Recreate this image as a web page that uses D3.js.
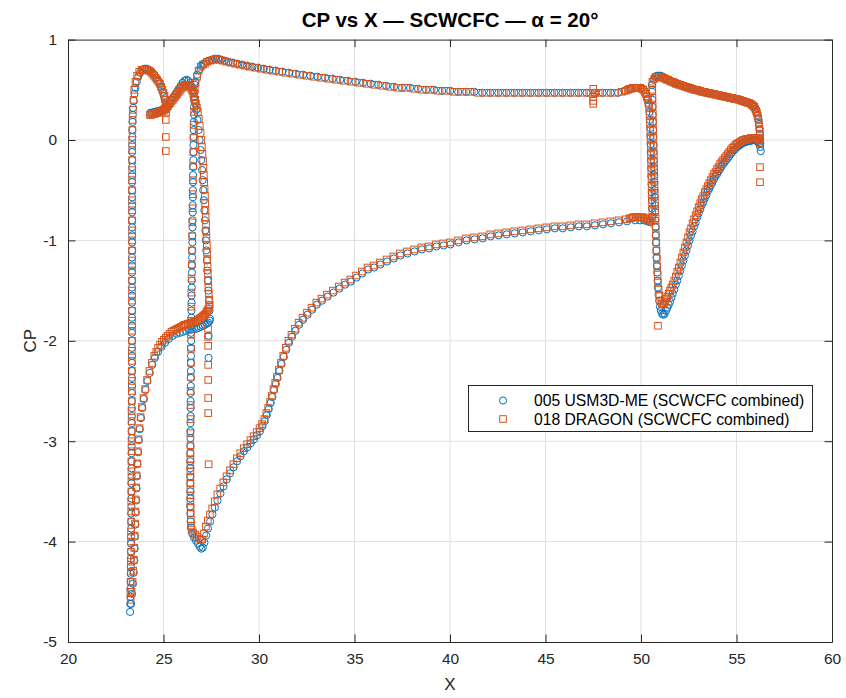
<!DOCTYPE html>
<html><head><meta charset="utf-8">
<script src="https://cdn.jsdelivr.net/npm/d3@7"></script>
<style>body{margin:0;background:#fff}text{font-family:"Liberation Sans",Arial,Helvetica,sans-serif}</style>
</head><body>
<svg id="chart" width="846" height="698"></svg>
<script>
const titleText = "CP vs X — SCWCFC — α = 20°";
const xLabel = "X", yLabel = "CP";
const xTicks = [20,25,30,35,40,45,50,55,60];
const yTicks = [-5,-4,-3,-2,-1,0,1];
const seriesNames = ["005 USM3D-ME (SCWCFC combined)", "018 DRAGON (SCWCFC combined)"];

// ---- 005 USM3D-ME : slat ----
const usmSlat = [
[23.25,-4.70],[23.30,-4.62],[23.35,-4.52],[23.40,-4.42],[23.44,-4.31],[23.47,-4.19],[23.49,-4.07],[23.51,-3.95],[23.53,-3.83],[23.55,-3.71],[23.57,-3.59],[23.59,-3.47],[23.61,-3.35],[23.64,-3.23],[23.67,-3.11],[23.71,-2.99],[23.76,-2.88],[23.82,-2.77],[23.89,-2.67],[23.97,-2.58],[24.06,-2.49],[24.16,-2.40],[24.28,-2.32],[24.41,-2.24],[24.55,-2.17],[24.71,-2.11],[24.89,-2.06],[25.08,-2.02],[25.28,-1.98],[25.48,-1.95],[25.68,-1.93],[25.86,-1.92],[26.02,-1.91],[26.17,-1.90],[26.32,-1.89],[26.46,-1.89],[26.59,-1.88],[26.72,-1.88],[26.84,-1.87],[26.96,-1.86],[27.07,-1.85],[27.17,-1.84],[27.26,-1.83],[27.34,-1.82],[27.42,-1.80],
[23.26,-4.62],[23.27,-4.55],[23.27,-4.47],[23.28,-4.40],[23.28,-4.32],[23.29,-4.25],[23.29,-4.17],[23.30,-4.10],[23.30,-4.02],[23.30,-3.95],[23.31,-3.87],[23.31,-3.80],[23.31,-3.72],[23.32,-3.65],[23.32,-3.57],[23.32,-3.50],[23.32,-3.42],[23.33,-3.35],[23.33,-3.27],[23.33,-3.20],[23.33,-3.12],[23.33,-3.05],[23.34,-2.97],[23.34,-2.90],[23.34,-2.82],[23.34,-2.75],[23.34,-2.67],[23.34,-2.60],[23.35,-2.52],[23.35,-2.45],[23.35,-2.37],[23.35,-2.30],[23.35,-2.22],[23.35,-2.15],[23.35,-2.07],[23.35,-2.00],[23.35,-1.92],[23.35,-1.85],[23.35,-1.77],[23.35,-1.70],[23.35,-1.62],[23.35,-1.55],[23.35,-1.47],[23.35,-1.40],[23.35,-1.32],[23.35,-1.25],[23.35,-1.17],[23.36,-1.10],[23.36,-1.02],[23.36,-0.95],[23.36,-0.87],[23.36,-0.80],[23.36,-0.72],[23.36,-0.65],[23.36,-0.57],[23.36,-0.50],[23.36,-0.42],[23.36,-0.35],[23.36,-0.27],[23.36,-0.20],[23.36,-0.12],[23.36,-0.05],[23.37,0.03],[23.37,0.10],[23.38,0.18],[23.39,0.25],[23.41,0.32],[23.44,0.39],[23.48,0.46],[23.53,0.52],[23.60,0.58],[23.68,0.63],[23.78,0.67],[23.90,0.70],
[24.02,0.71],[24.12,0.71],[24.22,0.70],[24.32,0.69],[24.42,0.67],[24.52,0.65],[24.62,0.62],[24.72,0.59],[24.81,0.56],[24.89,0.52],[24.96,0.48],[25.02,0.44],[25.07,0.40],[25.11,0.35],[25.13,0.30],
[24.30,0.27],[24.40,0.27],[24.50,0.28],[24.60,0.28],[24.70,0.29],[24.80,0.29],[24.90,0.30],[25.00,0.31],[25.10,0.32],[25.20,0.34],[25.30,0.36],[25.40,0.39],[25.50,0.42],[25.60,0.45],[25.70,0.48],[25.80,0.51],[25.90,0.54],[26.00,0.57],[26.10,0.59],[26.20,0.60],[26.30,0.59],[26.40,0.57],[26.48,0.53],[26.55,0.48],[26.61,0.43],[26.66,0.37],
[26.72,0.30],[26.78,0.20],[26.84,0.10],[26.89,0.00],[26.94,-0.10],[26.98,-0.20],[27.02,-0.30],[27.05,-0.40],[27.08,-0.50],[27.11,-0.60],[27.14,-0.70],[27.17,-0.80],[27.19,-0.90],[27.22,-1.00],[27.24,-1.10],[27.27,-1.20],[27.29,-1.30],[27.32,-1.40],[27.35,-1.50],[27.38,-1.60],[27.41,-1.70],[27.43,-1.78],
[27.36,-1.95],[27.36,-2.17]
];

// ---- 005 USM3D-ME : main element ----
const usmMain = [
[26.63,0.55],[26.62,0.48],[26.61,0.40],[26.60,0.33],[26.60,0.25],[26.59,0.18],[26.58,0.10],[26.58,0.03],[26.57,-0.05],[26.57,-0.12],[26.56,-0.20],[26.56,-0.27],[26.55,-0.35],[26.55,-0.42],[26.54,-0.50],[26.54,-0.57],[26.53,-0.65],[26.53,-0.72],[26.52,-0.80],[26.52,-0.87],[26.51,-0.95],[26.51,-1.02],[26.50,-1.10],[26.50,-1.17],[26.49,-1.25],[26.49,-1.32],[26.48,-1.40],[26.48,-1.47],[26.47,-1.55],[26.47,-1.62],[26.46,-1.70],[26.46,-1.77],[26.45,-1.85],[26.45,-1.92],[26.45,-2.00],[26.44,-2.07],[26.44,-2.15],[26.44,-2.22],[26.43,-2.30],[26.43,-2.37],[26.43,-2.45],[26.42,-2.52],[26.42,-2.60],[26.42,-2.67],[26.42,-2.75],[26.41,-2.82],[26.41,-2.90],[26.41,-2.97],[26.41,-3.05],[26.40,-3.12],[26.40,-3.20],[26.40,-3.27],[26.40,-3.35],[26.40,-3.42],[26.40,-3.50],[26.40,-3.57],[26.40,-3.65],[26.41,-3.72],[26.42,-3.80],[26.44,-3.86],
[26.50,-3.92],[26.60,-3.96],[26.70,-3.99],[26.80,-4.02],[26.90,-4.05],[26.98,-4.07],[27.06,-4.06],[27.14,-4.01],[27.23,-3.94],[27.33,-3.87],[27.44,-3.80],[27.56,-3.73],[27.69,-3.66],[27.83,-3.59],[27.98,-3.52],[28.14,-3.45],[28.31,-3.38],[28.49,-3.32],[28.67,-3.26],[28.85,-3.20],[29.03,-3.15],[29.21,-3.10],[29.39,-3.06],[29.57,-3.02],[29.74,-2.98],[29.90,-2.94],[30.05,-2.90],[30.18,-2.85],[30.30,-2.80],[30.41,-2.74],[30.51,-2.68],[30.61,-2.62],[30.70,-2.56],[30.79,-2.49],[30.88,-2.43],[30.97,-2.37],[31.07,-2.30],[31.18,-2.23],[31.30,-2.16],[31.43,-2.09],[31.57,-2.02],[31.73,-1.96],[31.91,-1.90],[32.10,-1.84],[32.31,-1.79],[32.54,-1.74],[32.78,-1.69],[33.03,-1.64],[33.30,-1.60],[33.59,-1.56],[33.90,-1.52],[34.21,-1.48],[34.51,-1.44],[34.81,-1.41],[35.11,-1.37],[35.41,-1.33],[35.71,-1.29],[36.03,-1.27],[36.36,-1.24],[36.71,-1.21],[37.06,-1.18],[37.41,-1.15],[37.78,-1.13],[38.15,-1.11],[38.53,-1.09],[38.91,-1.08],[39.29,-1.06],[39.67,-1.05],[40.03,-1.04],[40.45,-1.02],[40.87,-1.00],[41.29,-0.99],[41.71,-0.98],[42.13,-0.96],[42.55,-0.95],[42.97,-0.94],[43.39,-0.93],[43.81,-0.92],[44.23,-0.91],[44.65,-0.90],[45.07,-0.89],[45.49,-0.88],[45.91,-0.88],[46.33,-0.87],[46.75,-0.86],[47.17,-0.86],[47.59,-0.85],[48.01,-0.84],[48.43,-0.83],[48.85,-0.82],[49.27,-0.81],[49.69,-0.80],[49.95,-0.80],[50.15,-0.80],[50.32,-0.81],[50.48,-0.82],
[26.66,0.58],[26.76,0.65],[26.87,0.70],[26.98,0.74],[27.10,0.76],[27.23,0.78],[27.38,0.79],[27.53,0.80],[27.69,0.81],[27.85,0.81],[28.02,0.80],[28.21,0.79],[28.41,0.78],[28.63,0.77],[28.87,0.76],[29.13,0.75],[29.39,0.74],[29.66,0.73],[29.95,0.72],[30.25,0.71],[30.56,0.70],[30.88,0.69],[31.22,0.68],[31.57,0.67],[31.93,0.66],[32.31,0.65],[32.69,0.64],[33.07,0.63],[33.46,0.62],[33.85,0.61],[34.25,0.60],[34.65,0.59],[35.05,0.58],[35.45,0.57],[35.85,0.56],[36.25,0.55],[36.66,0.54],[37.07,0.53],[37.49,0.52],[37.91,0.52],[38.33,0.51],[38.75,0.50],[39.17,0.50],[39.59,0.49],[40.01,0.49],[40.43,0.48],[40.85,0.48],[41.27,0.48],[41.69,0.47],[42.11,0.47],[42.53,0.47],[42.95,0.47],[43.37,0.47],[43.79,0.47],[44.21,0.47],[44.63,0.47],[45.05,0.47],[45.47,0.47],[45.89,0.47],[46.31,0.47],[46.73,0.47],[47.15,0.47],[47.57,0.47],[47.99,0.47],[48.41,0.47],[48.80,0.47],[49.15,0.49],[49.45,0.51],[49.75,0.52],[50.00,0.52],[50.15,0.50],[50.26,0.46],[50.35,0.41],[50.41,0.35],
[50.44,0.28],[50.46,0.20],[50.48,0.12],[50.49,0.04],[50.50,-0.04],[50.51,-0.12],[50.52,-0.20],[50.53,-0.28],[50.54,-0.36],[50.55,-0.44],[50.56,-0.52],[50.57,-0.60],[50.58,-0.68],[50.59,-0.76]
];

// ---- 005 USM3D-ME : flap ----
const usmFlap = [
[50.57,0.55],[50.58,0.48],[50.59,0.40],[50.60,0.33],[50.61,0.25],[50.62,0.18],[50.63,0.10],[50.64,0.03],[50.65,-0.05],[50.66,-0.12],[50.67,-0.20],[50.68,-0.27],[50.69,-0.35],[50.70,-0.42],[50.71,-0.50],[50.72,-0.57],[50.73,-0.65],[50.74,-0.72],[50.75,-0.80],[50.76,-0.87],[50.77,-0.95],[50.78,-1.02],[50.80,-1.10],[50.81,-1.17],[50.83,-1.25],[50.85,-1.32],[50.87,-1.40],[50.89,-1.47],[50.92,-1.54],[50.95,-1.60],[50.99,-1.66],[51.04,-1.70],[51.10,-1.73],[51.17,-1.74],
[50.66,0.60],[50.74,0.63],[50.84,0.64],[50.94,0.64],[51.04,0.64],[51.14,0.63],[51.24,0.62],[51.34,0.61],[51.44,0.60],[51.54,0.59],[51.64,0.58],[51.74,0.57],[51.84,0.57],[51.94,0.56],[52.04,0.55],[52.14,0.55],[52.24,0.54],[52.34,0.53],[52.44,0.53],[52.54,0.52],[52.64,0.52],[52.74,0.51],[52.84,0.50],[52.94,0.50],[53.04,0.49],[53.14,0.49],[53.24,0.48],[53.34,0.48],[53.44,0.47],[53.54,0.47],[53.64,0.47],[53.74,0.46],[53.84,0.46],[53.94,0.45],[54.04,0.45],[54.14,0.44],[54.24,0.44],[54.34,0.44],[54.44,0.43],[54.54,0.43],[54.64,0.42],[54.74,0.42],[54.84,0.41],[54.94,0.41],[55.04,0.41],[55.14,0.40],[55.24,0.40],[55.34,0.39],[55.44,0.38],[55.54,0.38],[55.64,0.37],[55.74,0.36],[55.83,0.35],[55.91,0.33],[55.98,0.31],[56.04,0.28],[56.09,0.25],[56.14,0.21],[56.18,0.16],[56.21,0.11],[56.23,0.06],[56.24,0.01],[56.25,-0.03],
[51.24,-1.73],[51.31,-1.70],[51.38,-1.67],[51.45,-1.64],[51.52,-1.61],[51.59,-1.57],[51.66,-1.53],[51.74,-1.49],[51.82,-1.44],[51.90,-1.40],[51.98,-1.35],[52.06,-1.30],[52.14,-1.25],[52.22,-1.20],[52.30,-1.15],[52.38,-1.10],[52.46,-1.05],[52.54,-1.00],[52.62,-0.95],[52.70,-0.91],[52.78,-0.86],[52.86,-0.82],[52.94,-0.77],[53.02,-0.73],[53.10,-0.69],[53.18,-0.65],[53.26,-0.62],[53.34,-0.58],[53.42,-0.55],[53.50,-0.51],[53.58,-0.48],[53.66,-0.45],[53.74,-0.42],[53.82,-0.39],[53.90,-0.36],[53.98,-0.34],[54.06,-0.31],[54.14,-0.29],[54.22,-0.26],[54.30,-0.24],[54.38,-0.22],[54.46,-0.20],[54.54,-0.18],[54.62,-0.16],[54.70,-0.14],[54.78,-0.12],[54.86,-0.10],[54.94,-0.09],[55.02,-0.07],[55.10,-0.06],[55.18,-0.05],[55.26,-0.04],[55.34,-0.03],[55.42,-0.02],[55.50,-0.02],[55.58,-0.01],[55.66,-0.01],[55.74,-0.01],[55.82,0.00],[55.90,0.00],[55.98,0.00],[56.06,-0.01],[56.13,-0.02],[56.19,-0.04],[56.24,-0.07],[56.27,-0.11]
];

// ---- 018 DRAGON : slat ----
const dragonSlat = [
[23.28,-4.58],[23.33,-4.50],[23.38,-4.40],[23.42,-4.29],[23.45,-4.18],[23.47,-4.06],[23.49,-3.94],[23.51,-3.82],[23.53,-3.70],[23.55,-3.58],[23.57,-3.46],[23.59,-3.34],[23.62,-3.22],[23.65,-3.10],[23.69,-2.98],[23.74,-2.87],[23.80,-2.76],[23.87,-2.66],[23.95,-2.57],[24.04,-2.48],[24.14,-2.39],[24.26,-2.30],[24.39,-2.22],[24.52,-2.15],[24.62,-2.11],[24.72,-2.07],[24.82,-2.04],[24.92,-2.01],[25.02,-1.99],[25.12,-1.97],[25.22,-1.95],[25.32,-1.93],[25.42,-1.91],[25.52,-1.90],[25.62,-1.89],[25.72,-1.88],[25.82,-1.87],[25.92,-1.86],[26.02,-1.85],[26.10,-1.84],[26.18,-1.84],[26.26,-1.83],[26.34,-1.83],[26.42,-1.82],[26.50,-1.82],[26.58,-1.81],[26.66,-1.81],[26.74,-1.80],[26.82,-1.79],[26.89,-1.78],[26.96,-1.77],[27.03,-1.76],[27.09,-1.75],[27.15,-1.74],[27.21,-1.73],[27.26,-1.71],[27.31,-1.70],[27.35,-1.68],[27.39,-1.66],[27.42,-1.64],
[23.27,-4.50],[23.28,-4.40],[23.29,-4.30],[23.29,-4.20],[23.30,-4.10],[23.30,-4.00],[23.30,-3.90],[23.31,-3.80],[23.31,-3.70],[23.31,-3.60],[23.32,-3.50],[23.32,-3.40],[23.32,-3.30],[23.32,-3.20],[23.33,-3.10],[23.33,-3.00],[23.33,-2.90],[23.33,-2.80],[23.33,-2.70],[23.34,-2.60],[23.34,-2.50],[23.34,-2.40],[23.34,-2.30],[23.34,-2.20],[23.34,-2.10],[23.35,-2.00],[23.35,-1.90],[23.35,-1.80],[23.35,-1.70],[23.35,-1.60],[23.35,-1.50],[23.35,-1.40],[23.35,-1.30],[23.35,-1.20],[23.35,-1.10],[23.35,-1.00],[23.35,-0.90],[23.35,-0.80],[23.35,-0.70],[23.35,-0.60],[23.35,-0.50],[23.35,-0.40],[23.36,-0.30],[23.36,-0.20],[23.36,-0.10],[23.36,0.00],[23.37,0.10],[23.38,0.20],[23.40,0.30],[23.43,0.40],[23.47,0.50],[23.53,0.58],[23.62,0.64],[23.73,0.68],[23.85,0.70],[23.97,0.70],
[24.05,0.70],[24.14,0.70],[24.23,0.69],[24.32,0.68],[24.41,0.66],[24.50,0.64],[24.58,0.62],[24.66,0.60],[24.74,0.58],[24.81,0.56],[24.88,0.53],[24.94,0.50],[25.00,0.47],[25.05,0.44],[25.09,0.40],[25.12,0.36],[25.14,0.32],[25.14,0.28],
[25.12,0.20],[25.12,0.03],[25.12,-0.11],
[24.29,0.25],[24.35,0.25],[24.41,0.26],[24.47,0.26],[24.53,0.26],[24.59,0.27],[24.65,0.27],[24.71,0.27],[24.77,0.28],[24.83,0.28],[24.89,0.29],[24.95,0.29],[25.01,0.30],[25.07,0.31],[25.13,0.32],[25.19,0.33],[25.25,0.34],[25.31,0.36],[25.37,0.37],[25.43,0.39],[25.49,0.40],[25.55,0.42],[25.61,0.43],[25.67,0.45],[25.73,0.46],[25.79,0.48],[25.85,0.49],[25.91,0.51],[25.97,0.52],[26.03,0.53],[26.09,0.54],[26.15,0.55],[26.21,0.55],[26.27,0.55],[26.33,0.54],[26.39,0.53],[26.45,0.51],[26.51,0.49],[26.56,0.46],[26.61,0.43],[26.66,0.40],[26.70,0.36],[26.75,0.32],
[26.80,0.28],[26.85,0.21],[26.90,0.14],[26.94,0.07],[26.98,0.00],[27.01,-0.07],[27.04,-0.14],[27.07,-0.21],[27.09,-0.28],[27.11,-0.35],[27.13,-0.42],[27.15,-0.49],[27.17,-0.56],[27.18,-0.63],[27.20,-0.70],[27.21,-0.77],[27.23,-0.84],[27.24,-0.91],[27.25,-0.98],[27.27,-1.05],[27.28,-1.12],[27.29,-1.19],[27.31,-1.26],[27.32,-1.33],[27.34,-1.40],[27.35,-1.47],[27.37,-1.53],[27.39,-1.59],
[27.33,-1.88],[27.33,-1.96],[27.34,-2.05],[27.34,-2.24],[27.34,-2.39],[27.34,-2.57],[27.34,-2.72],[27.36,-3.23]
];

// ---- 018 DRAGON : main element ----
const dragonMain = [
[26.64,0.50],[26.62,0.40],[26.60,0.28],[26.58,0.15],[26.57,0.02],[26.56,-0.12],[26.55,-0.26],[26.54,-0.40],[26.53,-0.54],[26.52,-0.68],[26.51,-0.82],[26.50,-0.96],[26.49,-1.10],[26.48,-1.24],[26.47,-1.38],[26.46,-1.52],[26.46,-1.66],[26.45,-1.80],[26.44,-1.94],[26.44,-2.08],[26.43,-2.22],[26.43,-2.36],[26.42,-2.50],[26.42,-2.64],[26.42,-2.78],[26.41,-2.92],[26.41,-3.04],
[26.41,-3.12],[26.41,-3.18],[26.41,-3.24],[26.41,-3.30],[26.41,-3.36],[26.41,-3.42],[26.41,-3.48],[26.41,-3.54],[26.41,-3.60],[26.42,-3.66],[26.42,-3.72],[26.43,-3.78],[26.44,-3.84],[26.47,-3.88],[26.55,-3.91],[26.65,-3.93],[26.75,-3.95],[26.85,-3.97],[26.95,-3.98],
[27.03,-3.98],[27.12,-3.92],[27.22,-3.85],[27.32,-3.79],[27.43,-3.73],[27.55,-3.67],[27.68,-3.60],[27.82,-3.53],[27.97,-3.47],[28.13,-3.41],[28.30,-3.35],[28.48,-3.29],[28.66,-3.23],[28.84,-3.17],[29.02,-3.12],[29.20,-3.07],[29.38,-3.03],[29.55,-2.99],[29.72,-2.95],[29.88,-2.91],[30.03,-2.87],[30.16,-2.83],[30.28,-2.78],[30.38,-2.72],[30.48,-2.67],[30.58,-2.61],[30.67,-2.55],[30.76,-2.48],[30.85,-2.42],[30.94,-2.36],[31.04,-2.29],[31.15,-2.22],[31.27,-2.15],[31.40,-2.07],[31.54,-2.00],[31.70,-1.94],[31.88,-1.88],[32.07,-1.82],[32.28,-1.77],[32.51,-1.72],[32.75,-1.67],[33.00,-1.62],[33.27,-1.58],[33.56,-1.54],[33.87,-1.50],[34.18,-1.46],[34.48,-1.42],[34.78,-1.39],[35.08,-1.35],[35.38,-1.31],[35.68,-1.27],[36.00,-1.25],[36.33,-1.22],[36.68,-1.19],[37.03,-1.16],[37.38,-1.13],[37.75,-1.11],[38.12,-1.09],[38.50,-1.07],[38.88,-1.06],[39.26,-1.04],[39.64,-1.03],[40.00,-1.02],[40.42,-1.00],[40.84,-0.98],[41.26,-0.97],[41.68,-0.96],[42.10,-0.94],[42.52,-0.93],[42.94,-0.92],[43.36,-0.91],[43.78,-0.90],[44.20,-0.89],[44.62,-0.88],[45.04,-0.87],[45.46,-0.86],[45.88,-0.86],[46.30,-0.85],[46.72,-0.84],[47.14,-0.84],[47.56,-0.83],[47.98,-0.82],[48.40,-0.81],[48.82,-0.80],[49.20,-0.79],[49.40,-0.78],[49.48,-0.78],[49.56,-0.77],[49.64,-0.77],[49.72,-0.77],[49.80,-0.77],[49.88,-0.77],[49.96,-0.77],[50.04,-0.77],[50.12,-0.77],[50.20,-0.78],[50.28,-0.78],[50.36,-0.79],[50.44,-0.80],[50.52,-0.81],
[26.68,0.57],[26.76,0.63],[26.84,0.69],[26.95,0.73],[27.06,0.75],[27.17,0.76],[27.30,0.78],[27.45,0.79],[27.60,0.80],[27.76,0.80],[27.92,0.80],[28.10,0.79],[28.30,0.78],[28.52,0.77],[28.75,0.76],[29.00,0.75],[29.26,0.74],[29.52,0.73],[29.80,0.72],[30.10,0.71],[30.40,0.70],[30.72,0.69],[31.05,0.68],[31.40,0.67],[31.75,0.66],[32.12,0.65],[32.50,0.64],[32.88,0.63],[33.27,0.62],[33.66,0.61],[34.05,0.60],[34.45,0.59],[34.85,0.58],[35.25,0.57],[35.65,0.56],[36.05,0.55],[36.46,0.54],[36.87,0.53],[37.28,0.52],[37.70,0.52],[38.12,0.51],[38.54,0.50],[38.96,0.50],[39.38,0.49],[39.80,0.49],[40.22,0.48],[40.64,0.48],[41.06,0.48],[41.48,0.47],[41.90,0.47],[42.32,0.47],[42.74,0.47],[43.16,0.47],[43.58,0.47],[44.00,0.47],[44.42,0.47],[44.84,0.47],[45.26,0.47],[45.68,0.47],[46.10,0.47],[46.52,0.47],[46.94,0.47],[47.36,0.47],[47.60,0.47],[47.78,0.47],[48.20,0.47],[48.62,0.47],[49.00,0.48],[49.20,0.49],[49.32,0.50],[49.40,0.51],[49.48,0.51],[49.56,0.52],[49.64,0.52],[49.72,0.52],[49.80,0.52],[49.88,0.52],[49.96,0.52],[50.04,0.51],[50.12,0.50],[50.19,0.48],[50.25,0.46],[50.30,0.43],[50.35,0.40],[50.39,0.37],
[47.50,0.51],[47.50,0.43],[47.50,0.39],[47.50,0.36],
[50.42,0.33],[50.45,0.25],[50.47,0.17],[50.49,0.09],[50.50,0.01],[50.51,-0.07],[50.52,-0.15],[50.53,-0.23],[50.54,-0.31],[50.55,-0.39],[50.56,-0.47],[50.57,-0.55],[50.58,-0.63],[50.59,-0.71],[50.60,-0.78]
];

// ---- 018 DRAGON : flap ----
const dragonFlap = [
[50.60,0.58],[50.59,0.50],[50.60,0.42],[50.61,0.34],[50.62,0.26],[50.63,0.18],[50.64,0.10],[50.65,0.02],[50.66,-0.06],[50.67,-0.14],[50.68,-0.22],[50.69,-0.30],[50.70,-0.38],[50.71,-0.46],[50.72,-0.54],[50.73,-0.62],[50.74,-0.70],[50.76,-0.78],[50.77,-0.86],[50.78,-0.94],[50.80,-1.02],[50.81,-1.10],[50.83,-1.18],[50.85,-1.26],[50.87,-1.34],[50.89,-1.42],[50.92,-1.49],[50.96,-1.55],[51.01,-1.60],[51.08,-1.63],[51.15,-1.64],
[50.89,-1.85],
[50.70,0.61],[50.78,0.63],[50.86,0.63],[50.94,0.63],[51.02,0.63],[51.10,0.62],[51.18,0.62],[51.26,0.61],[51.34,0.60],[51.42,0.60],[51.50,0.59],[51.58,0.58],[51.66,0.58],[51.74,0.57],[51.82,0.56],[51.90,0.56],[51.98,0.55],[52.06,0.55],[52.14,0.54],[52.22,0.54],[52.30,0.53],[52.38,0.53],[52.46,0.52],[52.54,0.52],[52.62,0.51],[52.70,0.51],[52.78,0.50],[52.86,0.50],[52.94,0.50],[53.02,0.49],[53.10,0.49],[53.18,0.48],[53.26,0.48],[53.34,0.48],[53.42,0.47],[53.50,0.47],[53.58,0.47],[53.66,0.46],[53.74,0.46],[53.82,0.46],[53.90,0.45],[53.98,0.45],[54.06,0.45],[54.14,0.44],[54.22,0.44],[54.30,0.44],[54.38,0.43],[54.46,0.43],[54.54,0.43],[54.62,0.42],[54.70,0.42],[54.78,0.42],[54.86,0.41],[54.94,0.41],[55.02,0.41],[55.10,0.40],[55.18,0.40],[55.26,0.39],[55.34,0.39],[55.42,0.38],[55.50,0.38],[55.58,0.37],[55.66,0.37],[55.74,0.36],[55.81,0.35],[55.87,0.34],[55.93,0.33],[55.98,0.31],[56.03,0.29],[56.07,0.27],[56.11,0.24],[56.14,0.21],[56.17,0.17],[56.19,0.13],[56.21,0.09],[56.22,0.05],[56.23,0.01],
[51.20,-1.63],[51.26,-1.61],[51.32,-1.58],[51.38,-1.56],[51.45,-1.53],[51.52,-1.50],[51.59,-1.47],[51.66,-1.44],[51.74,-1.40],[51.82,-1.36],[51.90,-1.31],[51.98,-1.27],[52.06,-1.22],[52.14,-1.17],[52.22,-1.12],[52.30,-1.07],[52.38,-1.02],[52.46,-0.97],[52.54,-0.92],[52.62,-0.88],[52.70,-0.83],[52.78,-0.79],[52.86,-0.75],[52.94,-0.71],[53.02,-0.67],[53.10,-0.63],[53.18,-0.59],[53.26,-0.56],[53.34,-0.52],[53.42,-0.49],[53.50,-0.46],[53.58,-0.43],[53.66,-0.40],[53.74,-0.37],[53.82,-0.34],[53.90,-0.32],[53.98,-0.29],[54.06,-0.27],[54.14,-0.24],[54.22,-0.22],[54.30,-0.20],[54.38,-0.18],[54.46,-0.16],[54.54,-0.14],[54.62,-0.12],[54.70,-0.10],[54.78,-0.08],[54.86,-0.07],[54.94,-0.05],[55.02,-0.04],[55.10,-0.03],[55.18,-0.02],[55.26,-0.01],[55.34,0.00],[55.42,0.00],[55.50,0.01],[55.58,0.01],[55.66,0.01],[55.74,0.02],[55.82,0.02],[55.90,0.02],[55.98,0.02],[56.06,0.02],[56.13,0.01],[56.18,0.00],[56.22,-0.03],
[56.23,-0.27],[56.23,-0.42]
];

const usmData = usmSlat.concat(usmMain, usmFlap);
const dragonData = dragonSlat.concat(dragonMain, dragonFlap);

const blue = "#0072BD", orange = "#D95319", axisCol = "#262626", gridCol = "#dfdfdf";
const svg = d3.select("#chart");
const L = 68, R = 832, T = 39.6, B = 642;
const x = d3.scaleLinear().domain([20, 60]).range([L, R]);
const y = d3.scaleLinear().domain([-5, 1]).range([B, T]);
const fmt = d => String(d);
const fontFam = '"Liberation Sans", Arial, sans-serif';

svg.append("rect").attr("width", 846).attr("height", 698).attr("fill", "#fff");

// grid
const grid = svg.append("g");
grid.selectAll(".gx").data(xTicks.slice(1, -1)).join("line")
  .attr("x1", d => x(d)).attr("x2", d => x(d)).attr("y1", T).attr("y2", B)
  .attr("stroke", gridCol).attr("stroke-width", 1);
grid.selectAll(".gy").data(yTicks.slice(1, -1)).join("line")
  .attr("y1", d => y(d)).attr("y2", d => y(d)).attr("x1", L).attr("x2", R)
  .attr("stroke", gridCol).attr("stroke-width", 1);

// markers
const cr = 3.6, sq = 6.6;
const mk = svg.append("g");
mk.selectAll("circle.u").data(usmData).join("circle")
  .attr("cx", d => x(d[0])).attr("cy", d => y(d[1])).attr("r", cr)
  .attr("fill", "none").attr("stroke", blue).attr("stroke-width", 1);
mk.selectAll("rect.d").data(dragonData).join("rect")
  .attr("x", d => x(d[0]) - sq / 2).attr("y", d => y(d[1]) - sq / 2).attr("width", sq).attr("height", sq)
  .attr("fill", "none").attr("stroke", orange).attr("stroke-width", 1);

// axes (MATLAB box style with inward ticks)
const tl = 7.5;
const ax = svg.append("g");
ax.append("g").attr("transform", `translate(0,${B})`)
  .call(d3.axisBottom(x).tickValues(xTicks).tickFormat(fmt).tickSizeInner(-tl).tickSizeOuter(0).tickPadding(11))
  .call(g => g.select(".domain").attr("stroke", axisCol))
  .call(g => g.selectAll(".tick line").attr("stroke", axisCol))
  .call(g => g.selectAll("text").attr("fill", axisCol).style("font-size", "15.5px").style("font-family", fontFam));
ax.append("g").attr("transform", `translate(0,${T})`)
  .call(d3.axisTop(x).tickValues(xTicks).tickSizeInner(-tl).tickSizeOuter(0).tickFormat(""))
  .call(g => g.select(".domain").attr("stroke", axisCol))
  .call(g => g.selectAll(".tick line").attr("stroke", axisCol));
ax.append("g").attr("transform", `translate(${L},0)`)
  .call(d3.axisLeft(y).tickValues(yTicks).tickFormat(fmt).tickSizeInner(-tl).tickSizeOuter(0).tickPadding(11))
  .call(g => g.select(".domain").attr("stroke", axisCol))
  .call(g => g.selectAll(".tick line").attr("stroke", axisCol))
  .call(g => g.selectAll("text").attr("fill", axisCol).style("font-size", "15.5px").style("font-family", fontFam));
ax.append("g").attr("transform", `translate(${R},0)`)
  .call(d3.axisRight(y).tickValues(yTicks).tickSizeInner(-tl).tickSizeOuter(0).tickFormat(""))
  .call(g => g.select(".domain").attr("stroke", axisCol))
  .call(g => g.selectAll(".tick line").attr("stroke", axisCol));

// title & labels
svg.append("text").attr("x", (L + R) / 2).attr("y", 27).attr("text-anchor", "middle")
  .attr("font-weight", "bold").attr("font-size", 20.5).attr("fill", "#000").text(titleText);
svg.append("text").attr("x", (L + R) / 2).attr("y", 690).attr("text-anchor", "middle")
  .attr("font-size", 17).attr("fill", axisCol).text(xLabel);
svg.append("text").attr("transform", `translate(36,${(T + B) / 2}) rotate(-90)`).attr("text-anchor", "middle")
  .attr("font-size", 17).attr("fill", axisCol).text(yLabel);

// legend
const lg = svg.append("g");
lg.append("rect").attr("x", 468.5).attr("y", 385.5).attr("width", 344).attr("height", 46)
  .attr("fill", "#fff").attr("stroke", axisCol).attr("stroke-width", 1);
lg.append("circle").attr("cx", 503).attr("cy", 400.5).attr("r", cr).attr("fill", "none").attr("stroke", blue);
lg.append("rect").attr("x", 503 - sq / 2).attr("y", 419 - sq / 2).attr("width", sq).attr("height", sq).attr("fill", "none").attr("stroke", orange);
lg.selectAll("text").data(seriesNames).join("text")
  .attr("x", 534).attr("y", (d, i) => 406 + i * 18.5).attr("font-size", 15.7).attr("fill", "#000").text(d => d);
</script>
</body></html>
